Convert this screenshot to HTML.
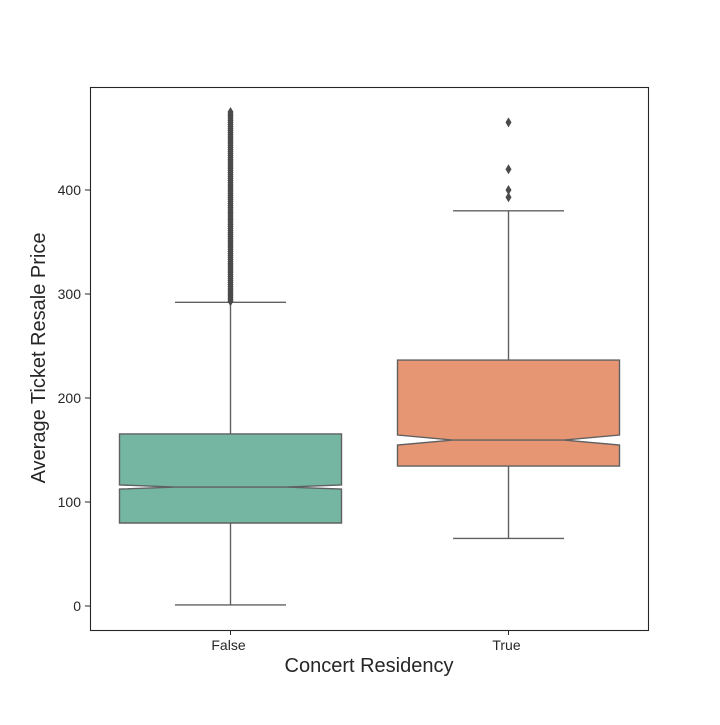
<!DOCTYPE html>
<html><head><meta charset="utf-8"><style>
body{margin:0;background:#fff}
svg text{font-family:"Liberation Sans",sans-serif;fill:#262626}
</style></head><body>
<svg width="720" height="720">
<rect x="0" y="0" width="720" height="720" fill="#fff"/>
<g id="plot"></g>
<rect x="90.5" y="87.5" width="558" height="543" fill="none" stroke="#262626" stroke-width="1.1"/>
<text x="369" y="672" text-anchor="middle" font-size="20">Concert Residency</text>
<text transform="translate(45,358) rotate(-90)" text-anchor="middle" font-size="20">Average Ticket Resale Price</text>
</svg>
<script>
const categories=["False","True"];
const colors=["#74b6a1","#e79674"];
const q1=[79.8,134.6];
const medians=[114.4,159.6];
const q3=[165.4,236.5];
const notchLo=[112.4,154.8];
const notchHi=[116.4,164.4];
const whiskerLo=[1,65];
const whiskerHi=[292,380];
const outliersFalse=[293,295,297,299,301,303,305,307,309,311,313,315,317,319,321,323,325,327,329,331,333,335,337,339,341,343,345,347,349,351,353,355,357,359,361,363,365,367,369,371,373,375,377,379,381,383,385,387,389,391,393,395,397,399,401,403,405,407,409,411,413,415,417,419,421,423,425,427,429,431,433,435,437,439,441,443,445,447,449,451,453,455,457,459,461,463,465,467,469,471,473,475];
const outliersTrue=[393,400,420,465];
const yTicks=[0,100,200,300,400];

const ns="http://www.w3.org/2000/svg";
const g=document.getElementById('plot');
const y=v=>606-1.04*v;
const xc=i=>230.5+278*i;
const halfW=111;
function mk(t,a){const e=document.createElementNS(ns,t);for(const k in a)e.setAttribute(k,a[k]);g.appendChild(e);return e;}
yTicks.forEach(t=>{
  const l=mk('line',{x1:85,x2:90,y1:y(t),y2:y(t),stroke:'#262626'});
  
  
  const tx=mk('text',{x:81,y:y(t)+5,'text-anchor':'end','font-size':14});
  tx.textContent=t;
  
  
});
categories.forEach((c,i)=>{
  const x=xc(i),L=x-halfW,R=x+halfW,nL=x-halfW/2,nR=x+halfW/2;
  const wl=mk('line',{x1:x,x2:x,y1:y(whiskerLo[i]),y2:y(q1[i]),stroke:'#606060','stroke-width':1.4});
  
  
  const wh=mk('line',{x1:x,x2:x,y1:y(whiskerHi[i]),y2:y(q3[i]),stroke:'#606060','stroke-width':1.4});
  
  
  [whiskerLo[i],whiskerHi[i]].forEach((w,k)=>{
    const cap=mk('line',{x1:nL,x2:nR,y1:y(w),y2:y(w),stroke:'#606060','stroke-width':1.4});
    
    
  });
  const pts=[[L,y(q1[i])],[R,y(q1[i])],[R,y(notchLo[i])],[nR,y(medians[i])],[R,y(notchHi[i])],[R,y(q3[i])],[L,y(q3[i])],[L,y(notchHi[i])],[nL,y(medians[i])],[L,y(notchLo[i])]];
  const b=mk('polygon',{points:pts.map(p=>p.join(',')).join(' '),fill:colors[i],stroke:'#606060','stroke-width':1.4});
  
  
  const m=mk('line',{x1:nL,x2:nR,y1:y(medians[i]),y2:y(medians[i]),stroke:'#606060','stroke-width':1.4});
  
  
  const tk=mk('line',{x1:x,x2:x,y1:630,y2:635,stroke:'#262626'});
  
  
  const tx=mk('text',{x:x-2,y:650,'text-anchor':'middle','font-size':14});
  tx.textContent=c;
  
  
  const outs=i===0?outliersFalse:outliersTrue;
  outs.forEach(v=>{
    const yy=y(v);
    const d=mk('polygon',{points:`${x},${yy-5} ${x+3},${yy} ${x},${yy+5} ${x-3},${yy}`,fill:'#4a4a4a'});
    
    
  });
});
</script>
</body></html>
